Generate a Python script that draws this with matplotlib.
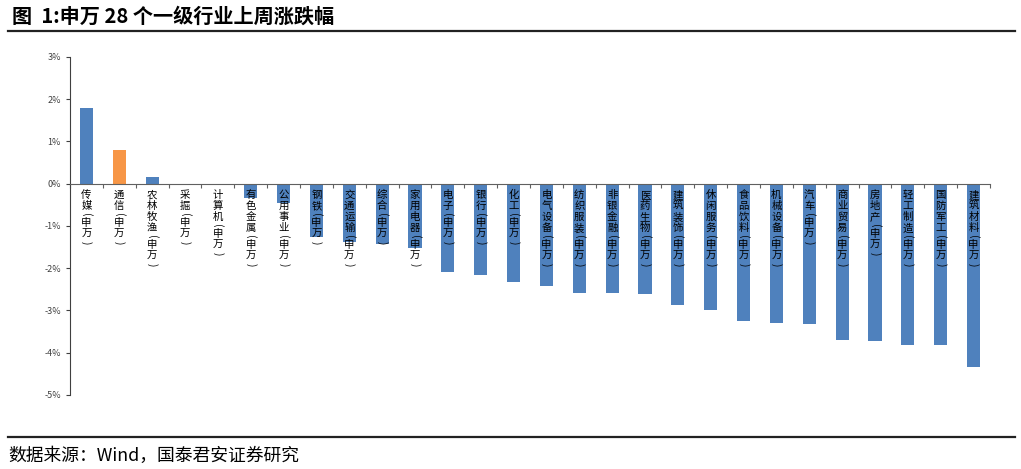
import numpy as np
import matplotlib.pyplot as plt
from matplotlib.lines import Line2D

plt.rcParams['font.family'] = ['Noto Sans CJK SC', 'DejaVu Sans']
plt.rcParams['axes.unicode_minus'] = False

industries = ['传媒', '通信', '农林牧渔', '采掘', '计算机', '有色金属', '公用事业', '钢铁',
              '交通运输', '综合', '家用电器', '电子', '银行', '化工', '电气设备', '纺织服装',
              '非银金融', '医药生物', '建筑装饰', '休闲服务', '食品饮料', '机械设备', '汽车',
              '商业贸易', '房地产', '轻工制造', '国防军工', '建筑材料']
changes = [1.80, 0.81, 0.17, 0.00, -0.03, -0.33, -0.45, -1.25,
           -1.38, -1.43, -1.52, -2.09, -2.15, -2.33, -2.41, -2.58,
           -2.58, -2.60, -2.86, -3.00, -3.26, -3.29, -3.31,
           -3.69, -3.72, -3.81, -3.81, -4.34]
highlight = '通信'
yticks = [3, 2, 1, 0, -1, -2, -3, -4, -5]

blue = '#4F81BD'
orange = '#F79646'

fig = plt.figure(figsize=(10.21, 4.69), dpi=100)
ax = fig.add_axes([0.0686, 0.1578, 0.9010, 0.7207])

x = np.arange(len(industries))
colors = [orange if name == highlight else blue for name in industries]
ax.bar(x, changes, width=0.4, color=colors, zorder=2)

# vertical labels, one character at a time; brackets turned sideways
for xi, name in zip(x, industries):
    y_off = -6
    for ch in list(name) + ['(', '申', '万', ')']:
        if ch in '()':
            ax.annotate(ch, (xi, 0), xytext=(0, y_off - 3), textcoords='offset pixels',
                        ha='center', va='center', rotation=-90, fontsize=7.5, zorder=3)
            y_off -= 6
        else:
            ax.annotate(ch, (xi, 0), xytext=(0, y_off - 5.5), textcoords='offset pixels',
                        ha='center', va='center', fontsize=7.5, zorder=3)
            y_off -= 11

ax.set_xlim(-0.5, len(industries) - 0.5)
ax.set_ylim(-5, 3)
ax.set_yticks(yticks)
ax.set_yticklabels([f'{t}%' for t in yticks], fontsize=6.5, color='#404040')
ax.tick_params(axis='y', length=3, width=0.8, color='#404040')

ax.spines['top'].set_visible(False)
ax.spines['right'].set_visible(False)
ax.spines['left'].set_color('#404040')
ax.spines['bottom'].set_position(('data', 0))
ax.spines['bottom'].set_color('#606060')
ax.set_xticks(np.arange(len(industries) + 1) - 0.5)
ax.set_xticklabels([])
ax.tick_params(axis='x', length=3, width=0.8, color='#606060', direction='out')

# title and source with rules
fig.text(0.012, 0.965, '图  1:申万 28 个一级行业上周涨跌幅', fontsize=14.5,
         fontweight='bold', va='center', ha='left')
fig.add_artist(Line2D([0.008, 0.994], [0.933, 0.933], color='#222222', lw=1.6))
fig.add_artist(Line2D([0.008, 0.994], [0.068, 0.068], color='#222222', lw=1.6))
fig.text(0.008, 0.028, '数据来源：Wind，国泰君安证券研究', fontsize=12.8, va='center', ha='left')

fig.savefig('out.png', dpi=100)
